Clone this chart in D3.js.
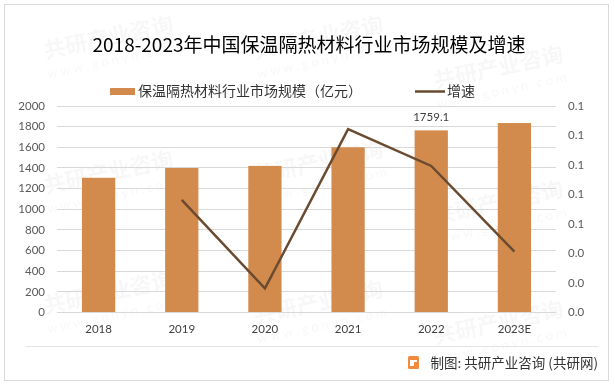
<!DOCTYPE html>
<html>
<head>
<meta charset="utf-8">
<script src="https://cdn.jsdelivr.net/npm/d3@7"></script>
<style>
  body { margin: 0; background: #fff; }
  svg text { font-family: Lato, "Noto Sans CJK SC", sans-serif; }
  .cjk { font-family: "Noto Sans CJK SC", sans-serif; }
</style>
</head>
<body>
<div id="chart"></div>
<script>
// chart data
const years = ["2018", "2019", "2020", "2021", "2022", "2023E"];
const marketSize = [1300, 1395, 1415, 1595, 1759.1, 1830];
const growthYears = ["2019", "2020", "2021", "2022", "2023E"];
const growthRate = [0.076, 0.016, 0.124, 0.099, 0.041];
const leftTicks = [0, 200, 400, 600, 800, 1000, 1200, 1400, 1600, 1800, 2000];
const rightTicks = [0, 0.02, 0.04, 0.06, 0.08, 0.10, 0.12, 0.14];
const labelled = { "2022": "1759.1" };

const width = 615, height = 386;
const plotLeft = 57, plotRight = 556, plotTop = 105.5, plotBottom = 312;

const svg = d3.select("#chart").append("svg")
    .attr("width", width)
    .attr("height", height);

// outer frame
svg.append("rect")
    .attr("x", 4.5).attr("y", 4.5)
    .attr("width", 604).attr("height", 376)
    .attr("fill", "#fff")
    .attr("stroke", "#d9d9d9");

// faint watermarks
let wm = svg.append("g").attr("opacity", 0.035);
[[110, 45], [320, 45], [500, 75], [110, 180], [320, 170], [500, 210], [110, 300], [320, 310], [500, 330]].forEach(p => {
    let g = wm.append("g").attr("transform", `translate(${p[0]},${p[1]}) rotate(-12)`);
    g.append("text").attr("class", "cjk")
        .attr("text-anchor", "middle")
        .attr("font-size", 22).attr("font-weight", "bold")
        .attr("fill", "#000")
        .text("共研产业咨询");
    g.append("text")
        .attr("y", 20)
        .attr("text-anchor", "middle")
        .attr("font-size", 13)
        .attr("letter-spacing", 3)
        .attr("fill", "#000")
        .text("www.gonyn.com");
});

// title
svg.append("text").attr("class", "cjk")
    .attr("x", 309).attr("y", 52)
    .attr("text-anchor", "middle")
    .attr("font-size", 19)
    .attr("fill", "#000")
    .text("2018-2023年中国保温隔热材料行业市场规模及增速");

// legend
let legend = svg.append("g");
legend.append("rect")
    .attr("x", 110).attr("y", 88)
    .attr("width", 25).attr("height", 7)
    .attr("fill", "#D38B4D");
legend.append("text").attr("class", "cjk")
    .attr("x", 138).attr("y", 96)
    .attr("font-size", 14)
    .attr("fill", "#333")
    .text("保温隔热材料行业市场规模（亿元）");
legend.append("line")
    .attr("x1", 415).attr("x2", 445)
    .attr("y1", 91.5).attr("y2", 91.5)
    .attr("stroke", "#6A4B30").attr("stroke-width", 2.5);
legend.append("text").attr("class", "cjk")
    .attr("x", 447).attr("y", 96)
    .attr("font-size", 14)
    .attr("fill", "#333")
    .text("增速");

// scales
const x = d3.scaleBand().domain(years).range([plotLeft, plotRight])
    .paddingInner(0.6).paddingOuter(0.3);
const yL = d3.scaleLinear().domain([0, 2000]).range([plotBottom, plotTop]);
const yR = d3.scaleLinear().domain([0, 0.14]).range([plotBottom, plotTop]);

// gridlines
svg.append("g").selectAll("line")
    .data(leftTicks)
    .enter().append("line")
    .attr("x1", plotLeft).attr("x2", plotRight)
    .attr("y1", d => Math.round(yL(d)) + 0.5)
    .attr("y2", d => Math.round(yL(d)) + 0.5)
    .attr("stroke", "#d9d9d9");

// left axis
let axL = svg.append("g")
    .attr("transform", `translate(${plotLeft - 12},0)`)
    .call(d3.axisLeft(yL).tickValues(leftTicks).tickSize(0).tickPadding(0).tickFormat(d3.format("d")));
axL.select(".domain").remove();
axL.selectAll("text").attr("font-size", 11.5).attr("fill", "#595959");

// right axis
let axR = svg.append("g")
    .attr("transform", `translate(${plotRight + 12},0)`)
    .call(d3.axisRight(yR).tickValues(rightTicks).tickSize(0).tickPadding(0).tickFormat(d3.format(".1f")));
axR.select(".domain").remove();
axR.selectAll("text").attr("font-size", 11.5).attr("fill", "#595959");

// bottom axis labels
let axB = svg.append("g")
    .attr("transform", `translate(0,${plotBottom + 13})`)
    .call(d3.axisBottom(x).tickSize(0).tickPadding(0));
axB.select(".domain").remove();
axB.selectAll("text").attr("font-size", 11.5).attr("fill", "#404040");

// bars
svg.append("g").selectAll("rect")
    .data(years.map((y, i) => ({ year: y, value: marketSize[i] })))
    .enter().append("rect")
    .attr("x", d => x(d.year))
    .attr("y", d => yL(d.value))
    .attr("width", x.bandwidth())
    .attr("height", d => yL(0) - yL(d.value))
    .attr("fill", "#D38B4D");

// data label
svg.append("g").selectAll("text")
    .data(years.map((y, i) => ({ year: y, value: marketSize[i] })).filter(d => labelled[d.year]))
    .enter().append("text")
    .attr("x", d => x(d.year) + x.bandwidth() / 2)
    .attr("y", d => yL(d.value) - 9)
    .attr("text-anchor", "middle")
    .attr("font-size", 11.5)
    .attr("fill", "#404040")
    .text(d => labelled[d.year]);

// growth line
const growth = growthYears.map((y, i) => ({ year: y, value: growthRate[i] }));
svg.append("path")
    .datum(growth)
    .attr("fill", "none")
    .attr("stroke", "#6A4B30")
    .attr("stroke-width", 2.5)
    .attr("d", d3.line()
        .x(d => x(d.year) + x.bandwidth() / 2)
        .y(d => yR(d.value)));

// footer
svg.append("line")
    .attr("x1", 26).attr("x2", 598)
    .attr("y1", 346.5).attr("y2", 346.5)
    .attr("stroke", "#e3e3e3");

let logo = svg.append("g").attr("transform", "translate(408,356)");
logo.append("rect")
    .attr("width", 11).attr("height", 13).attr("rx", 1.5)
    .attr("fill", "#F08A3C");
logo.append("rect")
    .attr("x", 2).attr("y", 4).attr("width", 4).attr("height", 6)
    .attr("fill", "#fff");
logo.append("rect")
    .attr("x", 6).attr("y", 4).attr("width", 3).attr("height", 2)
    .attr("fill", "#fff");

svg.append("text").attr("class", "cjk")
    .attr("x", 598).attr("y", 368)
    .attr("text-anchor", "end")
    .attr("font-size", 13.5)
    .attr("fill", "#333")
    .text("制图: 共研产业咨询 (共研网)");
</script>
</body>
</html>
